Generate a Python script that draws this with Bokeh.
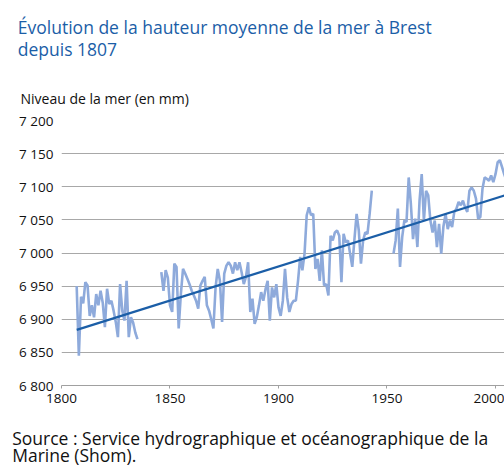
import numpy as np
from bokeh.plotting import figure
from bokeh.models import Range1d, FixedTicker, Title, BoxAnnotation
from bokeh.embed import file_html
from bokeh.resources import INLINE

# ---------------- data ----------------
start_year_1 = 1807
niveau_1 = [6950, 6845, 6934, 6924, 6956, 6951, 6905, 6921, 6903, 6938,
            6921, 6943, 6925, 6888, 6946, 6923, 6928, 6913, 6896, 6873,
            6953, 6913, 6898, 6958, 6873, 6903, 6895, 6880, 6870]

start_year_2 = 1846
niveau_2 = [6971, 6943, 6974, 6963, 6921, 6911, 6984, 6979, 6886, 6938,
            6976, 6969, 6961, 6953, 6943, 6936, 6928, 6916, 6951, 6958,
            6964, 6921, 6913, 6900, 6886, 6948, 6976, 6958, 6896, 6969,
            6981, 6986, 6981, 6969, 6986, 6974, 6986, 6971, 6953, 6964,
            6986, 6911, 6931, 6893, 6903, 6921, 6941, 6928, 6945, 6958,
            6898, 6948, 6933, 6953, 6918, 6905, 6928, 6976, 6933, 6911,
            6923, 6928, 6928, 6958, 6994, 6974, 6999, 7057, 7069, 7057,
            7059, 6976, 6991, 6958, 7004, 6951, 6953, 6936, 7026, 7019,
            7031, 7034, 7026, 6956, 7029, 7016, 7019, 6999, 6979, 7021,
            7059, 7034, 6984, 7019, 7031, 7029, 7059, 7094]

start_year_3 = 1953
niveau_3 = [6999, 7019, 7067, 6979, 7024, 7049, 7047, 7114, 7074, 7021,
            7052, 7009, 7079, 7119, 7049, 7094, 7087, 7049, 7031, 7049,
            7009, 7044, 6999, 7040, 7059, 7036, 7049, 7039, 7062, 7067,
            7077, 7072, 7079, 7069, 7062, 7094, 7099, 7094, 7082, 7052,
            7054, 7097, 7114, 7112, 7109, 7117, 7107, 7119, 7137, 7140,
            7130, 7119, 7110]

trend_years = [1807, 2010]
trend_values = [6884, 7093]

x_ticks = [1800, 1850, 1900, 1950, 2000]
y_ticks = [6800, 6850, 6900, 6950, 7000, 7050, 7100, 7150, 7200]
y_tick_labels = ["6 800", "6 850", "6 900", "6 950", "7 000",
                 "7 050", "7 100", "7 150", "7 200"]

titre_1 = "Évolution de la hauteur moyenne de la mer à Brest"
titre_2 = "depuis 1807"
label_y = "Niveau de la mer (en mm)"
source_1 = "Source : Service hydrographique et océanographique de la"
source_2 = "Marine (Shom)."

# ---------------- build series with gaps ----------------
xs, ys = [], []
for start, vals in [(start_year_1, niveau_1), (start_year_2, niveau_2), (start_year_3, niveau_3)]:
    xs += list(range(start, start + len(vals))) + [np.nan]
    ys += list(vals) + [np.nan]
xs = np.array(xs[:-1], dtype=float)
ys = np.array(ys[:-1], dtype=float)

FONT = "Open Sans"
BLUE = "#1b5ea7"
TXT = "#111111"


def pad(top=0, right=0, bottom=0, left=0):
    return dict(left=left, right=right, top=top, bottom=bottom)


p = figure(width=504, height=466, output_backend="svg", toolbar_location=None,
           x_range=Range1d(1800, 2004.15), y_range=Range1d(6800, 7200),
           min_border_left=61, min_border_right=0, min_border_top=0,
           min_border_bottom=81)
p.outline_line_color = None
p.background_fill_color = "white"
p.border_fill_color = "white"

p.line(xs, ys, line_color="#8eaadb", line_width=2.6)
p.line(trend_years, trend_values, line_color=BLUE, line_width=2.2)

# axes
p.xaxis.ticker = FixedTicker(ticks=x_ticks)
p.xaxis.axis_line_color = "#a0a0a0"
p.xaxis.major_tick_line_color = "#a0a0a0"
p.xaxis.major_tick_out = 3
p.xaxis.major_tick_in = 0
p.xaxis.minor_tick_line_color = None
p.xaxis.major_label_standoff = 5
p.xaxis.major_label_text_font = FONT
p.xaxis.major_label_text_font_size = "13.5px"
p.xaxis.major_label_text_color = TXT

p.yaxis.ticker = FixedTicker(ticks=y_ticks)
p.yaxis.major_label_overrides = {t: l for t, l in zip(y_ticks, y_tick_labels)}
p.yaxis.axis_line_color = None
p.yaxis.major_tick_line_color = None
p.yaxis.major_tick_out = 0
p.yaxis.major_tick_in = 0
p.yaxis.minor_tick_line_color = None
p.yaxis.minor_tick_out = 0
p.yaxis.major_label_standoff = 8
p.yaxis.major_label_text_font = FONT
p.yaxis.major_label_text_font_size = "13.5px"
p.yaxis.major_label_text_color = TXT

p.xgrid.grid_line_color = None
p.ygrid.grid_line_color = "#a8a8a8"
p.ygrid.grid_line_width = 1

# black top/left edge of the original picture's frame
p.add_layout(BoxAnnotation(left=-52, right=700, top=372, bottom=-300,
                           left_units="screen", right_units="screen",
                           top_units="screen", bottom_units="screen",
                           fill_color=None, fill_alpha=0,
                           line_color="black", line_width=2))

# titles above (first added = closest to frame)
p.add_layout(Title(text=label_y, align="left", offset=-41, text_font=FONT,
                   text_font_size="14px", text_font_style="normal",
                   text_color=TXT, standoff=25.8, padding=pad(top=13)), "above")
p.add_layout(Title(text=titre_2, align="left", offset=-43.7, text_font=FONT,
                   text_font_size="17.5px", text_font_style="normal",
                   text_color=BLUE, standoff=0), "above")
p.add_layout(Title(text=titre_1, align="left", offset=-43.7, text_font=FONT,
                   text_font_size="17.5px", text_font_style="normal",
                   text_color=BLUE, standoff=-8.8, padding=pad(top=17)), "above")

# source below (first added = closest to frame)
p.add_layout(Title(text=source_1, align="left", offset=-49.3, text_font=FONT,
                   text_font_size="17.5px", text_font_style="normal",
                   text_color=TXT, standoff=0, padding=pad(top=18)), "below")
p.add_layout(Title(text=source_2, align="left", offset=-49.3, text_font=FONT,
                   text_font_size="17.5px", text_font_style="normal",
                   text_color=TXT, standoff=-17), "below")

open("out.html", "w").write(file_html(p, INLINE))
